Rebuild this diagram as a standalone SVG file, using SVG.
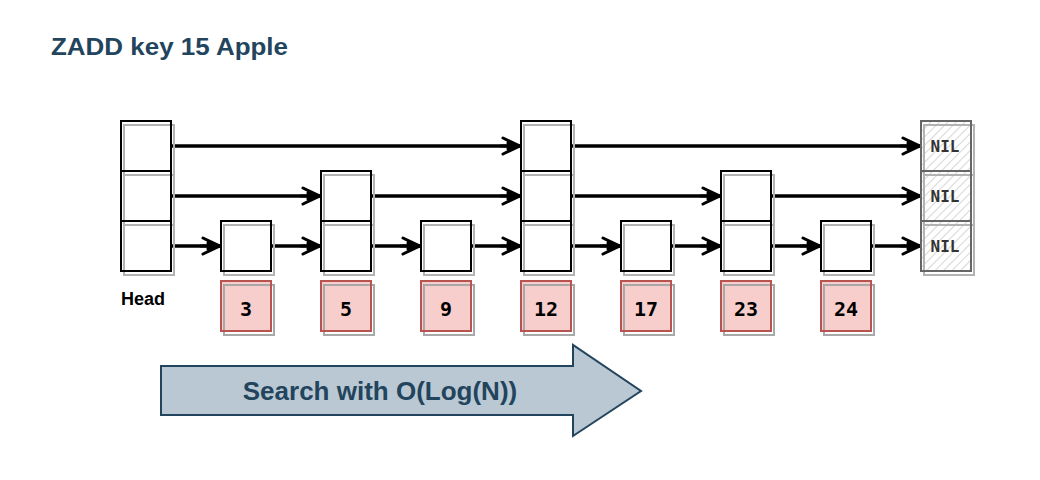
<svg xmlns="http://www.w3.org/2000/svg" width="1040" height="480" viewBox="0 0 1040 480">
<style>
.bg{fill:#ffffff}
.sh{fill:none;stroke:#b3b3b3;stroke-width:2}
.cell{fill:none;stroke:#000;stroke-width:2}
.nil{fill:url(#hatch);stroke:#666;stroke-width:2}
.val{fill:#f8cecc;stroke:#b85450;stroke-width:2}
.valsh{fill:none;stroke:#a8a8a8;stroke-width:2}
.num{font-family:"DejaVu Sans Mono",monospace;font-weight:bold;font-size:20px;fill:#000;text-anchor:middle}
.niltxt{font-family:"DejaVu Sans Mono",monospace;font-weight:bold;font-size:16px;fill:#333;text-anchor:middle}
.link{fill:none;stroke:#000;stroke-width:3.5;marker-end:url(#arr)}
.title{font-family:"Liberation Sans",Arial,sans-serif;font-weight:bold;font-size:24px;fill:#23445d}
.head{font-family:"Liberation Sans",Arial,sans-serif;font-weight:bold;font-size:18px;fill:#000}
.big{fill:#bac8d3;stroke:#23445d;stroke-width:2}
.bigtxt{font-family:"Liberation Sans",Arial,sans-serif;font-weight:bold;font-size:26px;fill:#23445d;text-anchor:middle}
</style>
<defs>
<pattern id="hatch" width="6" height="6" patternUnits="userSpaceOnUse" patternTransform="rotate(45)">
<rect width="6" height="6" fill="#ffffff"/>
<line x1="0" y1="0" x2="0" y2="6" stroke="#999" stroke-width="0.8"/>
</pattern>
<marker id="arr" markerUnits="userSpaceOnUse" markerWidth="22" markerHeight="22" refX="20" refY="11" orient="auto" viewBox="0 0 22 22">
<path d="M3,3 L20,11 L3,19 M5,4 L19,11 L5,18 M8,8 L16,11 L8,14 M1,11 L12,11" fill="none" stroke="#000" stroke-width="3" stroke-linejoin="round" stroke-linecap="round"/>
</marker>
</defs>
<rect class="bg" x="0" y="0" width="1040" height="480"/>
<text class="title" x="51" y="55" textLength="237" lengthAdjust="spacingAndGlyphs">ZADD key 15 Apple</text>

<g id="connectors">
<line class="link" x1="171" y1="146" x2="520" y2="146"/>
<line class="link" x1="571" y1="146" x2="920" y2="146"/>
<line class="link" x1="171" y1="196" x2="320" y2="196"/>
<line class="link" x1="371" y1="196" x2="520" y2="196"/>
<line class="link" x1="571" y1="196" x2="720" y2="196"/>
<line class="link" x1="771" y1="196" x2="920" y2="196"/>
<line class="link" x1="171" y1="246" x2="220" y2="246"/>
<line class="link" x1="271" y1="246" x2="320" y2="246"/>
<line class="link" x1="371" y1="246" x2="420" y2="246"/>
<line class="link" x1="471" y1="246" x2="520" y2="246"/>
<line class="link" x1="571" y1="246" x2="620" y2="246"/>
<line class="link" x1="671" y1="246" x2="720" y2="246"/>
<line class="link" x1="771" y1="246" x2="820" y2="246"/>
<line class="link" x1="871" y1="246" x2="920" y2="246"/>
</g>

<g id="head">
<rect class="sh" x="124" y="125" width="50" height="50"/>
<rect class="sh" x="124" y="175" width="50" height="50"/>
<rect class="sh" x="124" y="225" width="50" height="50"/>
<rect class="cell" x="121" y="121" width="50" height="50"/>
<rect class="cell" x="121" y="171" width="50" height="50"/>
<rect class="cell" x="121" y="221" width="50" height="50"/>
<text class="head" x="121" y="305">Head</text>
</g>

<g id="node3">
<rect class="sh" x="224" y="225" width="50" height="50"/>
<rect class="cell" x="221" y="221" width="50" height="50"/>
<rect class="val" x="221" y="281" width="50" height="50"/>
<rect class="valsh" x="224" y="285" width="50" height="50"/>
<rect fill="none" stroke="#b85450" stroke-width="2" x="221" y="281" width="50" height="50"/>
<text class="num" x="246" y="316">3</text>
</g>

<g id="node5">
<rect class="sh" x="324" y="175" width="50" height="50"/>
<rect class="sh" x="324" y="225" width="50" height="50"/>
<rect class="cell" x="321" y="171" width="50" height="50"/>
<rect class="cell" x="321" y="221" width="50" height="50"/>
<rect class="val" x="321" y="281" width="50" height="50"/>
<rect class="valsh" x="324" y="285" width="50" height="50"/>
<rect fill="none" stroke="#b85450" stroke-width="2" x="321" y="281" width="50" height="50"/>
<text class="num" x="346" y="316">5</text>
</g>

<g id="node9">
<rect class="sh" x="424" y="225" width="50" height="50"/>
<rect class="cell" x="421" y="221" width="50" height="50"/>
<rect class="val" x="421" y="281" width="50" height="50"/>
<rect class="valsh" x="424" y="285" width="50" height="50"/>
<rect fill="none" stroke="#b85450" stroke-width="2" x="421" y="281" width="50" height="50"/>
<text class="num" x="446" y="316">9</text>
</g>

<g id="node12">
<rect class="sh" x="524" y="125" width="50" height="50"/>
<rect class="sh" x="524" y="175" width="50" height="50"/>
<rect class="sh" x="524" y="225" width="50" height="50"/>
<rect class="cell" x="521" y="121" width="50" height="50"/>
<rect class="cell" x="521" y="171" width="50" height="50"/>
<rect class="cell" x="521" y="221" width="50" height="50"/>
<rect class="val" x="521" y="281" width="50" height="50"/>
<rect class="valsh" x="524" y="285" width="50" height="50"/>
<rect fill="none" stroke="#b85450" stroke-width="2" x="521" y="281" width="50" height="50"/>
<text class="num" x="546" y="316">12</text>
</g>

<g id="node17">
<rect class="sh" x="624" y="225" width="50" height="50"/>
<rect class="cell" x="621" y="221" width="50" height="50"/>
<rect class="val" x="621" y="281" width="50" height="50"/>
<rect class="valsh" x="624" y="285" width="50" height="50"/>
<rect fill="none" stroke="#b85450" stroke-width="2" x="621" y="281" width="50" height="50"/>
<text class="num" x="646" y="316">17</text>
</g>

<g id="node23">
<rect class="sh" x="724" y="175" width="50" height="50"/>
<rect class="sh" x="724" y="225" width="50" height="50"/>
<rect class="cell" x="721" y="171" width="50" height="50"/>
<rect class="cell" x="721" y="221" width="50" height="50"/>
<rect class="val" x="721" y="281" width="50" height="50"/>
<rect class="valsh" x="724" y="285" width="50" height="50"/>
<rect fill="none" stroke="#b85450" stroke-width="2" x="721" y="281" width="50" height="50"/>
<text class="num" x="746" y="316">23</text>
</g>

<g id="node24">
<rect class="sh" x="824" y="225" width="50" height="50"/>
<rect class="cell" x="821" y="221" width="50" height="50"/>
<rect class="val" x="821" y="281" width="50" height="50"/>
<rect class="valsh" x="824" y="285" width="50" height="50"/>
<rect fill="none" stroke="#b85450" stroke-width="2" x="821" y="281" width="50" height="50"/>
<text class="num" x="846" y="316">24</text>
</g>

<g id="nil">
<rect class="nil" x="921" y="121" width="50" height="50"/>
<rect class="nil" x="921" y="171" width="50" height="50"/>
<rect class="nil" x="921" y="221" width="50" height="50"/>
<rect class="sh" x="924" y="125" width="50" height="50"/>
<rect class="sh" x="924" y="175" width="50" height="50"/>
<rect class="sh" x="924" y="225" width="50" height="50"/>
<rect fill="none" stroke="#666" stroke-width="2" x="921" y="121" width="50" height="50"/>
<rect fill="none" stroke="#666" stroke-width="2" x="921" y="171" width="50" height="50"/>
<rect fill="none" stroke="#666" stroke-width="2" x="921" y="221" width="50" height="50"/>
<text class="niltxt" x="945" y="152">NIL</text>
<text class="niltxt" x="945" y="202">NIL</text>
<text class="niltxt" x="945" y="252">NIL</text>
</g>

<g id="search">
<path class="big" d="M161,366 L573,366 L573,345 L641,391 L573,436 L573,415 L161,415 Z"/>
<text class="bigtxt" x="380" y="400">Search with O(Log(N))</text>
</g>
</svg>
